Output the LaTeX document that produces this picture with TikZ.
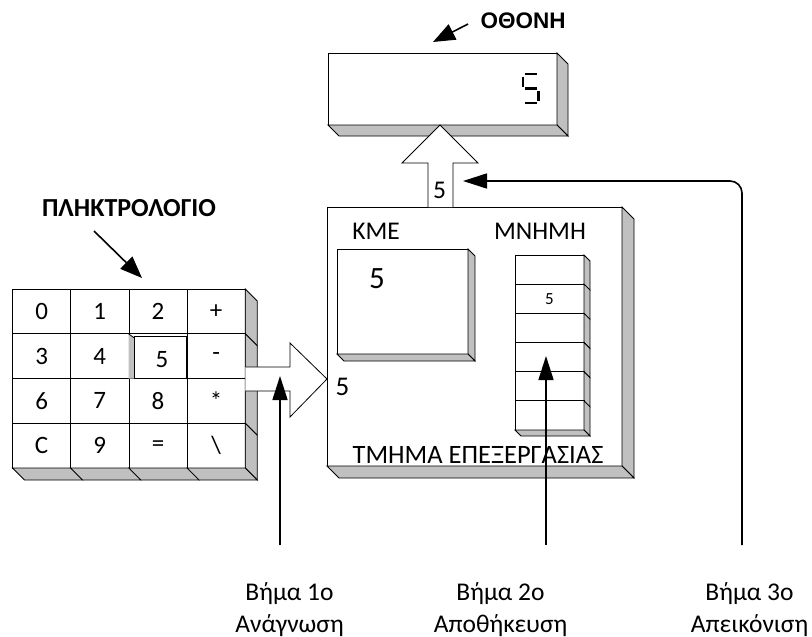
\documentclass[tikz,border=0pt]{standalone}
\usepackage{fontspec}
\setmainfont{Carlito}
\newfontfamily\arialfont{Liberation Sans}
\usetikzlibrary{calc,arrows.meta}
\definecolor{bevelgray}{HTML}{C0C0C0}
\newcommand{\rightbevel}[2]{%
  \filldraw[bevelline] (#1.north east) -- ++(#2,#2) -- ($(#1.south east)+(#2,#2)$) -- (#1.south east) -- cycle;}
\newcommand{\bottombevel}[2]{%
  \filldraw[bevelline] (#1.south west) -- ++(#2,#2) -- ($(#1.south east)+(#2,#2)$) -- (#1.south east) -- cycle;}
\begin{document}
\begin{tikzpicture}[x=1pt,y=-1pt,
  facebox/.style={draw=black,fill=white,line width=0.8pt,inner sep=0pt,outer sep=0pt,rectangle},
  bevelline/.style={draw=black,fill=bevelgray,line width=0.8pt,line join=miter},
  keytxt/.style={font=\fontsize{25}{28}\selectfont},
  lbl/.style={font=\fontsize{25.5}{30}\selectfont,inner sep=0pt},
  boldlbl/.style={font=\bfseries\fontsize{26}{30}\selectfont,inner sep=0pt},
  steparrow/.style={line width=1.6pt,-{Triangle[length=24pt,width=15pt]}},
  ptrarrow/.style={line width=1.6pt,-{Triangle[length=22pt,width=17pt]}},
  blockarrow/.style={draw=black,fill=white,line width=0.8pt,line join=miter}]
\useasboundingbox (0,0) rectangle (812,637);

% ---------- keyboard ----------
\foreach \lab/\c/\r [count=\i] in {0/0/0,1/1/0,2/2/0,+/3/0,3/0/1,4/1/1,-/3/1,6/0/2,7/1/2,8/2/2,*/3/2,C/0/3,9/1/3,=/2/3,\textbackslash/3/3}{
  \node[facebox,keytxt,minimum width=58.2pt,minimum height=44.75pt] (key\c\r) at ({41.6+58.2*\c},{311.4+44.75*\r}) {\lab};
}
% pressed key 5
\fill[bevelgray] (128.7,334) -- (134.5,338) -- (134.5,378.7) -- (128.7,378.7) -- cycle;
\draw[line width=0.8pt] (128.7,334) -- (134.5,338);
\node[facebox,minimum width=52.2pt,minimum height=42.2pt] (key21) at (160.6,357.6) {};
\node[keytxt] (k5txt) at (162,360) {5};
\draw[line width=0.8pt] (key20.south west) -- (key20.south east);
% keyboard bevels
\foreach \r in {0,1,2,3}{ \rightbevel{key3\r}{12} }
\foreach \c in {0,1,2,3}{ \bottombevel{key\c3}{12} }

\node[boldlbl] (kbdlbl) at (129,208) {ΠΛΗΚΤΡΟΛΟΓΙΟ};
\coordinate (kbdptr) at (94,231);
\coordinate (kbdtip) at (142,278);
\draw[ptrarrow] (kbdptr) -- (kbdtip);

% ---------- display ----------
\node[facebox,minimum width=229pt,minimum height=72pt] (disp) at (442.5,89) {};
\rightbevel{disp}{11}
\bottombevel{disp}{11}
% seven-segment 5
\begin{scope}[line width=2.6pt]
  \draw (524.5,74) -- (537,74);
  \draw (523,76.5) -- (523,86.5);
  \draw (524.5,88.7) -- (537,88.7);
  \draw (538.5,91) -- (538.5,101);
  \draw (524.5,103) -- (537,103);
\end{scope}
\node[font=\arialfont\bfseries\fontsize{22.5}{25}\selectfont,inner sep=0pt] (displbl) at (523,21) {ΟΘΟΝΗ};
\coordinate (dispptr) at (468,24);
\coordinate (disptip) at (433,42);
\draw[ptrarrow] (dispptr) -- (disptip);

% ---------- processing unit ----------
\node[facebox,minimum width=295pt,minimum height=259pt] (proc) at (474.5,336.5) {};
\rightbevel{proc}{12}
\bottombevel{proc}{12}
\node[lbl,anchor=base] (kmelbl) at (376,239) {ΚΜΕ};
\node[lbl,anchor=base] (memlbl) at (540,239) {ΜΝΗΜΗ};
\node[lbl,anchor=base,font=\fontsize{26.5}{30}\selectfont] (proclbl) at (478,463) {ΤΜΗΜΑ ΕΠΕΞΕΡΓΑΣΙΑΣ};

\node[facebox,minimum width=131pt,minimum height=105pt] (cpu) at (402.5,301.5) {};
\rightbevel{cpu}{7}
\bottombevel{cpu}{7}
\node[font=\fontsize{31}{34}\selectfont,inner sep=0pt,anchor=base] (cpuval) at (377,288) {5};

\foreach \r in {0,...,5}{
  \node[facebox,minimum width=69pt,minimum height=29.17pt] (mem\r) at (549.5,{269.6+29.17*\r}) {};
  \rightbevel{mem\r}{6}
}
\bottombevel{mem5}{6}
\node[font=\fontsize{17}{20}\selectfont,inner sep=0pt] (memval) at (mem1) {5};

% ---------- block arrows ----------
\filldraw[blockarrow] (428,207) -- (428,163) -- (402,163) -- (disp.south -| 440,0) -- (478,163) -- (453,163) -- (453,207);
\node[lbl,anchor=base] (upval) at (439.5,198) {5};
\coordinate (s3tip) at (463,181);

\filldraw[blockarrow] (key33.east |- 0,367) -- (290,367) -- (290,343) -- (proc.west |- 0,379) -- (290,417) -- (290,391) -- (key33.east |- 0,391);
\node[font=\fontsize{27}{30}\selectfont,inner sep=0pt,anchor=base] (inval) at (342.5,395) {5};

% ---------- step arrows ----------
\coordinate (s1a) at (280,545);
\coordinate (s1b) at (280,376);
\coordinate (s2a) at (546,545);
\coordinate (s2b) at (546,356);
\coordinate (s3a) at (742,545);
\draw[steparrow] (s1a) -- (s1b);
\draw[steparrow] (s2a) -- (s2b);
\draw[steparrow,rounded corners=12pt] (s3a) |- (s3tip);

\node[lbl,anchor=base] (st1a) at (289.5,600) {Βήμα 1ο};
\node[lbl,anchor=base] (st1b) at (289.5,632) {Ανάγνωση};
\node[lbl,anchor=base] (st2a) at (500.5,600) {Βήμα 2ο};
\node[lbl,anchor=base] (st2b) at (500.5,632) {Αποθήκευση};
\node[lbl,anchor=base] (st3a) at (749.5,600) {Βήμα 3ο};
\node[lbl,anchor=base] (st3b) at (749.5,632) {Απεικόνιση};
\end{tikzpicture}
\end{document}
